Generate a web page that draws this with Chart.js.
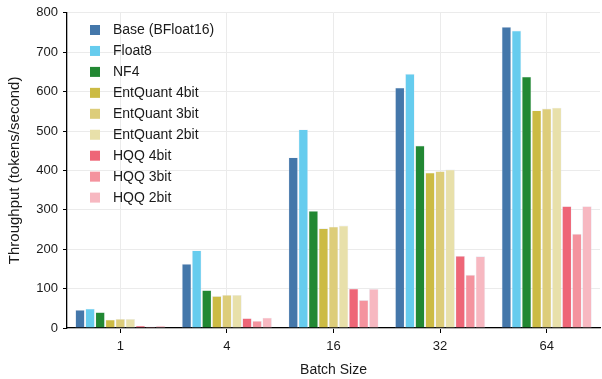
<!DOCTYPE html>
<html lang="en">
<head>
  <meta charset="UTF-8">
  <title>Throughput by batch size</title>
  <style>
    body {
      margin: 0;
      padding: 0;
      background-color: #fff;
    }
    #chartBox {
      width: 602px;
      height: 379px;
    }
  </style>
</head>
<body>
  <div id="chartBox">
    <canvas id="chartContainer"></canvas>
  </div>

  <script src="https://cdn.jsdelivr.net/npm/chart.js"></script>
  <script>
    const batchSizes = ['1', '4', '16', '32', '64'];

    const baseBf16 = [46, 163, 433, 610, 764];
    const float8 = [49, 197, 504, 645, 755];
    const nf4 = [40, 96, 297, 463, 638];
    const entQuant4 = [21, 81, 253, 394, 552];
    const entQuant3 = [23, 84, 257, 398, 557];
    const entQuant2 = [23, 84, 260, 402, 559];
    const hqq4 = [6, 25, 100, 183, 309];
    const hqq3 = [4, 18, 71, 135, 239];
    const hqq2 = [6, 26, 99, 182, 309];

    const seriesNames = ['Base (BFloat16)', 'Float8', 'NF4', 'EntQuant 4bit', 'EntQuant 3bit',
      'EntQuant 2bit', 'HQQ 4bit', 'HQQ 3bit', 'HQQ 2bit'];
    const seriesValues = [baseBf16, float8, nf4, entQuant4, entQuant3, entQuant2, hqq4, hqq3, hqq2];
    const seriesColors = ['#4477aa', '#66ccee', '#228833', '#ccbb44', '#ddcd7a', '#e8e0aa',
      '#ee6677', '#f4939e', '#f7b8c1'];

    const yTicks = [0, 100, 200, 300, 400, 500, 600, 700, 800];

    const fontFamily = '"Liberation Sans", Arial, sans-serif';

    // legend drawn inside the plot, top-left, like the original
    const insideLegend = {
      id: 'insideLegend',
      afterDraw(chart) {
        const ctx = chart.ctx;
        ctx.save();
        ctx.font = '14px ' + fontFamily;
        ctx.textBaseline = 'middle';
        chart.data.datasets.forEach((ds, i) => {
          const y = 30 + i * 20.95;
          ctx.fillStyle = ds.backgroundColor;
          ctx.fillRect(90, y - 5, 10, 10);
          ctx.fillStyle = '#1a1a1a';
          ctx.fillText(ds.label, 113, y + 0.5);
        });
        ctx.restore();
      }
    };

    const datasets = seriesNames.map((name, i) => ({
      label: name,
      data: seriesValues[i],
      backgroundColor: seriesColors[i],
      borderColor: 'rgba(225, 230, 240, 0.8)',
      borderWidth: 0.6,
      categoryPercentage: 0.85,
      barPercentage: 0.94
    }));

    new Chart(document.getElementById('chartContainer'), {
      type: 'bar',
      data: {
        labels: batchSizes,
        datasets: datasets
      },
      options: {
        responsive: true,
        maintainAspectRatio: false,
        animation: false,
        layout: {
          padding: { left: 0, right: 2, top: 9, bottom: 0 }
        },
        plugins: {
          legend: { display: false },
          tooltip: { enabled: false }
        },
        scales: {
          x: {
            grid: {
              offset: false,
              color: '#ebebeb',
              lineWidth: 1,
              tickColor: '#000',
              tickLength: 5
            },
            border: { color: '#000', width: 1.3 },
            ticks: {
              color: '#1a1a1a',
              padding: 6,
              font: { family: fontFamily, size: 13 }
            },
            title: {
              display: true,
              text: 'Batch Size',
              color: '#1a1a1a',
              padding: { top: 0, bottom: 0 },
              font: { family: fontFamily, size: 14 }
            },
            afterFit(scale) {
              scale.height = 51;
            }
          },
          y: {
            min: 0,
            max: 800,
            afterBuildTicks(scale) {
              scale.ticks = yTicks.map(v => ({ value: v }));
            },
            grid: {
              color: '#ebebeb',
              lineWidth: 1,
              tickColor: '#000',
              tickLength: 4
            },
            border: { color: '#000', width: 1.3 },
            ticks: {
              color: '#1a1a1a',
              padding: 5,
              font: { family: fontFamily, size: 13 }
            },
            title: {
              display: true,
              text: 'Throughput (tokens/second)',
              color: '#1a1a1a',
              padding: { top: 6, bottom: 0 },
              font: { family: fontFamily, size: 15 }
            },
            afterFit(scale) {
              scale.width = 67;
            }
          }
        }
      },
      plugins: [insideLegend]
    });
  </script>
</body>
</html>
